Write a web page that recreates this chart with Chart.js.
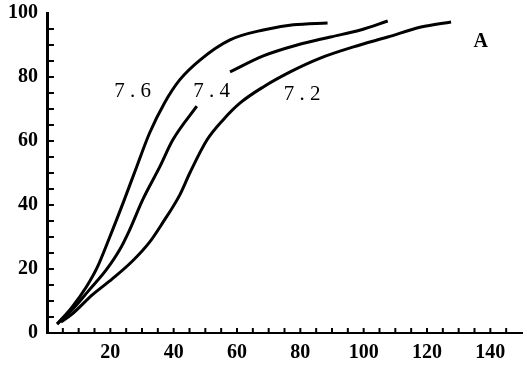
<!DOCTYPE html>
<html>
<head>
<meta charset="utf-8">
<script src="https://cdn.jsdelivr.net/npm/chart.js@4.4.0/dist/chart.umd.min.js"></script>
<style>
html, body { margin: 0; padding: 0; background: #fff; }
</style>
</head>
<body>
<canvas id="canvas" width="527" height="367"></canvas>
<script>
// curves, one per pH value
var ph76X = [3.2, 7.9, 12.4, 15.9, 19.7, 24.4, 28.3, 32.4, 37.1, 41.9, 48.3, 57.8, 68.3, 77.8, 88.6];
var ph76Y = [2.8, 8.1, 14.4, 20.6, 29.7, 41.6, 51.9, 62.5, 71.9, 79.1, 85.3, 91.6, 94.7, 96.3, 96.9];

// 7.4 has a break where its label sits (null = gap)
var ph74X = [3.2, 7.9, 13.3, 18.7, 22.9, 26, 30.2, 35.6, 39.7, 47.3, 52, 57.8, 68.3, 79, 89.5, 99, 107.6];
var ph74Y = [2.8, 7.2, 13.4, 19.7, 25.9, 32, 41.6, 51.9, 60.3, 70.9, null, 81.6, 86.6, 90, 92.5, 94.7, 97.5];

var ph72X = [4.4, 7.9, 14.3, 20.6, 27.0, 32.4, 36.5, 41.9, 45.1, 50.5, 55.6, 61, 68.3, 76.8, 86.3, 96.8, 107.6, 118.1, 127.6];
var ph72Y = [3.4, 5.9, 11.9, 16.9, 22.5, 28.4, 34.4, 43.1, 50, 60.3, 66.6, 71.9, 76.9, 81.6, 85.9, 89.4, 92.5, 95.6, 97.2];

var curveNames = ['7.6', '7.4', '7.2'];
var labelX = [27, 52, 80.6];
var labelY = [75.6, 75.6, 74.4];

var xTickLabels = [20, 40, 60, 80, 100, 120, 140];
var yTickLabels = [0, 20, 40, 60, 80, 100];

function toPoints(xs, ys) {
    return xs.map(function (x, i) { return { x: x, y: ys[i] }; });
}

// ticks pointing into the plot, every 5 units
var innerTicks = {
    id: 'innerTicks',
    afterDraw: function (chart) {
        var ctx = chart.ctx;
        var xs = chart.scales.x, ys = chart.scales.y;
        ctx.save();
        ctx.strokeStyle = '#000';
        ctx.lineWidth = 2;
        ctx.beginPath();
        for (var v = 5; v < 150; v += 5) {
            var px = xs.getPixelForValue(v);
            ctx.moveTo(px, ys.bottom);
            ctx.lineTo(px, ys.bottom - 5);
        }
        for (var w = 5; w < 100; w += 5) {
            var py = ys.getPixelForValue(w);
            ctx.moveTo(xs.left, py);
            ctx.lineTo(xs.left + 7, py);
        }
        ctx.stroke();

        // curve names and panel letter
        ctx.fillStyle = '#000';
        ctx.textAlign = 'center';
        ctx.textBaseline = 'middle';
        ctx.font = '21px "Liberation Serif"';
        for (var i = 0; i < curveNames.length; i++) {
            ctx.fillText(curveNames[i].split('').join(' '), xs.getPixelForValue(labelX[i]), ys.getPixelForValue(labelY[i]));
        }
        ctx.font = 'bold 20px "Liberation Serif"';
        ctx.fillText('A', xs.getPixelForValue(137), ys.getPixelForValue(91));
        ctx.restore();
    }
};

var lineStyle = { borderColor: '#000', borderWidth: 3, pointRadius: 0, cubicInterpolationMode: 'monotone', fill: false, spanGaps: false };

var ctx = document.getElementById('canvas').getContext('2d');
var myChart = new Chart(ctx, {
    type: 'line',
    data: {
        datasets: [
            Object.assign({ label: curveNames[0], data: toPoints(ph76X, ph76Y) }, lineStyle),
            Object.assign({ label: curveNames[1], data: toPoints(ph74X, ph74Y) }, lineStyle),
            Object.assign({ label: curveNames[2], data: toPoints(ph72X, ph72Y) }, lineStyle)
        ]
    },
    options: {
        responsive: false,
        animation: false,
        layout: { padding: { top: 13, right: 5, left: 0, bottom: 0 } },
        plugins: { legend: { display: false }, tooltip: { enabled: false } },
        scales: {
            x: {
                type: 'linear',
                min: 0,
                max: 150,
                grid: { display: false, drawTicks: false },
                border: { display: true, color: '#000', width: 2 },
                ticks: {
                    autoSkip: false,
                    maxRotation: 0,
                    padding: 8,
                    color: '#000',
                    font: { family: 'Liberation Serif', size: 20, weight: 'bold' }
                },
                afterBuildTicks: function (scale) {
                    scale.ticks = xTickLabels.map(function (v) { return { value: v }; });
                },
                afterFit: function (scale) { scale.height = 34; scale.paddingLeft = 0; scale.paddingRight = 0; }
            },
            y: {
                min: 0,
                max: 100,
                grid: { display: false, drawTicks: false },
                border: { display: true, color: '#000', width: 3 },
                ticks: {
                    autoSkip: false,
                    padding: 9,
                    color: '#000',
                    font: { family: 'Liberation Serif', size: 20, weight: 'bold' }
                },
                afterBuildTicks: function (scale) {
                    scale.ticks = yTickLabels.map(function (v) { return { value: v }; });
                },
                afterFit: function (scale) { scale.width = 47; scale.paddingTop = 0; scale.paddingBottom = 0; }
            }
        }
    },
    plugins: [innerTicks]
});
</script>
</body>
</html>
